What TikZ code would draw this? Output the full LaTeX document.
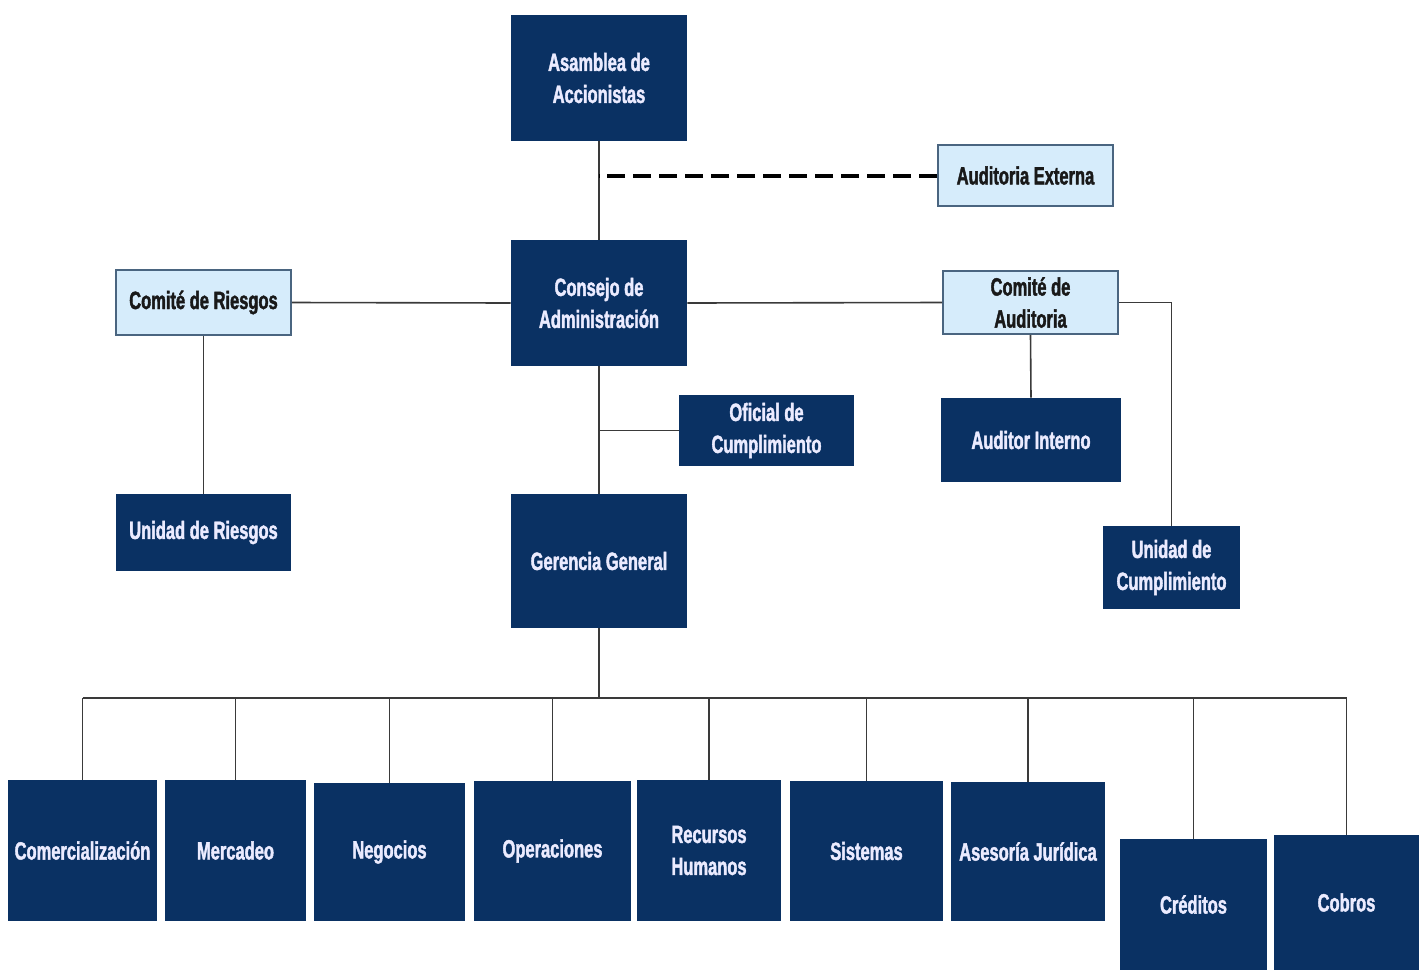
\documentclass[tikz,border=0pt]{standalone}
\usepackage{fontspec}
\newfontface\orgfont{Liberation Sans Bold}[FakeStretch=0.66, FakeBold=1.6]
\definecolor{navy}{HTML}{0A3163}
\definecolor{paleblue}{HTML}{D6ECFB}
\definecolor{paleedge}{HTML}{4A6580}
\definecolor{linegray}{HTML}{3A3A3A}
\tikzset{
  orgbox/.style 2 args={minimum width=#1*0.5pt, minimum height=#2*0.5pt,
    inner sep=1pt, align=center, font=\orgfont\fontsize{12.5}{16}\selectfont},
  darkbox/.style 2 args={orgbox={#1}{#2}, fill=navy, text=white!92!blue},
  lightbox/.style 2 args={orgbox={#1}{#2}, fill=paleblue, draw=paleedge, line width=0.8pt, text=black!90},
  link/.style={draw=linegray, line width=0.8pt}
}
\begin{document}
\begin{tikzpicture}[x=0.5pt, y=-0.5pt]
    \useasboundingbox (0,0) rectangle (1425,970);

    % top of the chart
    \node[darkbox={176}{126}] (asamblea) at (599,78) {Asamblea de\\Accionistas};
    \node[lightbox={175}{61}] (auditext) at (1025.5,175.5) {Auditoria Externa};
    \node[darkbox={176}{126}] (consejo) at (599,303) {Consejo de\\Administración};

    % comites
    \node[lightbox={175}{65}] (comriesgos) at (203.5,302.5) {Comité de Riesgos};
    \node[lightbox={175}{63}] (comaudit) at (1030.5,302.5) {Comité de\\Auditoria};
    \node[darkbox={175}{77}] (unidriesgos) at (203.5,532.5) {Unidad de Riesgos};
    \node[darkbox={180}{84}] (auditint) at (1031,440) {Auditor Interno};
    \node[darkbox={137}{83}] (unidcump) at (1171.5,567.5) {Unidad de\\Cumplimiento};

    % gerencia
    \node[darkbox={175}{71}] (oficial) at (766.5,430.5) {Oficial de\\Cumplimiento};
    \node[darkbox={176}{134}] (gerencia) at (599,561) {Gerencia General};

    % departamentos
    \foreach \nm/\x/\y/\w/\h/\txt in {
        comer/82.5/850.5/149/141/{Comercialización},
        merc/235.5/850.5/141/141/{Mercadeo},
        nego/389.5/852/151/138/{Negocios},
        oper/552.5/851/157/140/{Operaciones},
        rrhh/709/850.5/144/141/{Recursos\\Humanos},
        sist/866.5/851/153/140/{Sistemas},
        ases/1028/851.5/154/139/{Asesoría Jurídica},
        cred/1193.5/904.5/147/131/{Créditos},
        cob/1346.5/902.5/145/135/{Cobros}} {
      \node[darkbox={\w}{\h}] (\nm) at (\x,\y) {\txt};
    }

    % lineas
    \path[link] (asamblea.south) -- (consejo.north);
    \draw[black, line width=2pt, dash pattern=on 9pt off 4pt]
      (auditext.west) -- (auditext.west -| asamblea.south);
    \path[link] (comriesgos.east) -- (consejo.west);
    \path[link] (consejo.east) -- (comaudit.west);
    \path[link] (comriesgos.south) -- (unidriesgos.north);
    \path[link] (comaudit.south) -- (auditint.north);
    \path[link] (comaudit.east) -| (unidcump.north);
    \path[link] (consejo.south) -- (gerencia.north);
    \path[link] (oficial.west) -- (oficial.west -| consejo.south);

    \coordinate (bus) at (599,698);
    \path[link] (gerencia.south) -- (bus);
    \path[link] (comer.north |- bus) -- (cob.north |- bus);
    \foreach \nm in {comer,merc,nego,oper,rrhh,sist,ases,cred,cob}
      \path[link] (\nm.north) -- (\nm.north |- bus);
\end{tikzpicture}
\end{document}
